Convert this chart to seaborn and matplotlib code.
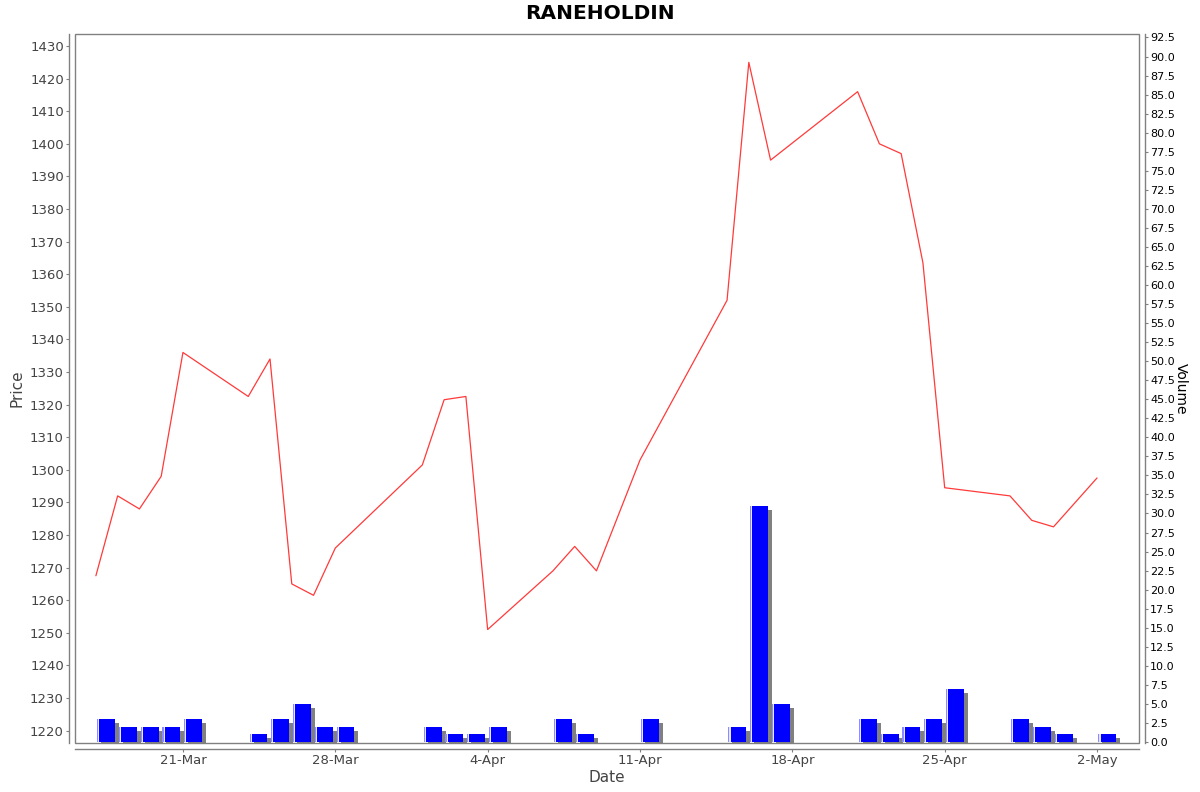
import numpy as np
import pandas as pd
import matplotlib
matplotlib.use("Agg")
import matplotlib.pyplot as plt
import matplotlib.dates as mdates
import matplotlib.transforms as mtransforms
from matplotlib.patches import Rectangle
import seaborn as sns

# trading days and values
dates = ["2025-03-17", "2025-03-18", "2025-03-19", "2025-03-20", "2025-03-21",
         "2025-03-24", "2025-03-25", "2025-03-26", "2025-03-27", "2025-03-28",
         "2025-04-01", "2025-04-02", "2025-04-03", "2025-04-04",
         "2025-04-07", "2025-04-08", "2025-04-09", "2025-04-11",
         "2025-04-15", "2025-04-16", "2025-04-17",
         "2025-04-21", "2025-04-22", "2025-04-23", "2025-04-24", "2025-04-25",
         "2025-04-28", "2025-04-29", "2025-04-30", "2025-05-02"]
price = [1267.5, 1292, 1288, 1298, 1336,
         1322.5, 1334, 1265, 1261.5, 1276,
         1301.5, 1321.5, 1322.5, 1251,
         1269, 1276.5, 1269, 1303,
         1352, 1425, 1395,
         1416, 1400, 1397, 1363.5, 1294.5,
         1292, 1284.5, 1282.5, 1297.5]
volume = [3, 2, 2, 2, 3,
          1, 3, 5, 2, 2,
          2, 1, 1, 2,
          3, 1, 0, 3,
          2, 31, 5,
          3, 1, 2, 3, 7,
          3, 2, 1, 1]

df = pd.DataFrame({"Date": pd.to_datetime(dates), "Price": price, "Volume": volume})

sns.set_style("white")
plt.rcParams["font.family"] = ["DejaVu Sans"]

fig = plt.figure(figsize=(12, 7.92), dpi=100)
ax = fig.add_axes([0.0625, 0.0619, 0.8867, 0.8952])
ax2 = ax.twinx()

grey = "#808080"
txt = "#444444"

# volume bars with drop shadow
x = mdates.date2num(df["Date"]) + 0.06
w = 0.82
shadow = mtransforms.offset_copy(ax2.transData, fig=fig, x=4, y=-4, units="dots")
ax2.bar(x, df["Volume"], width=w, align="edge", color=grey, linewidth=0,
        transform=shadow, zorder=1)
ax2.bar(x, df["Volume"], width=w, align="edge", color="#0000ff", linewidth=0, zorder=2)
ax2.bar(x, df["Volume"], width=0.05, align="edge", color="#8c8cff", linewidth=0, zorder=3)
ax2.bar(x + 0.05, df["Volume"], width=0.05, align="edge", color="#e6e6ff", linewidth=0, zorder=3)

# price line on top
ax.set_zorder(ax2.get_zorder() + 1)
ax.patch.set_visible(False)
sns.lineplot(data=df, x="Date", y="Price", ax=ax, color="#ff3a3a", linewidth=0.9)

ax.set_xlim(mdates.date2num(pd.Timestamp("2025-03-16")) + 0.04,
            mdates.date2num(pd.Timestamp("2025-05-03")) + 0.93)
ax.set_ylim(1216.2, 1433.7)
ax2.set_ylim(-0.13, 92.96)

ticks = pd.date_range("2025-03-21", "2025-05-02", freq="7D")
ax.set_xticks(mdates.date2num(ticks))
ax.set_xticklabels([f"{t.day}-{t.strftime('%b')}" for t in ticks])
ax.set_yticks(np.arange(1220, 1431, 10))
ax2.set_yticks(np.arange(0, 92.6, 2.5))
ax2.set_yticklabels([f"{v:.1f}" for v in np.arange(0, 92.6, 2.5)])

for a in (ax, ax2):
    for s in a.spines.values():
        s.set_visible(False)
ax.spines["left"].set_visible(True)
ax.spines["left"].set_position(("outward", 4))
ax.spines["bottom"].set_visible(True)
ax.spines["bottom"].set_position(("outward", 4))
ax2.spines["right"].set_visible(True)
ax2.spines["right"].set_position(("outward", 4))
for s in (ax.spines["left"], ax.spines["bottom"], ax2.spines["right"]):
    s.set_color(grey)
    s.set_linewidth(1)

ax.add_patch(Rectangle((0, 0), 1, 1, transform=ax.transAxes, fill=False,
                       edgecolor=grey, linewidth=1, clip_on=False, zorder=5))

ax.tick_params(axis="both", which="major", direction="out", length=2, width=0.8,
               color=grey, labelsize=9.5, labelcolor=txt, pad=2,
               left=True, bottom=True)
ax2.tick_params(axis="y", direction="out", length=2, width=0.8, color=grey,
                labelsize=8, labelcolor="black", pad=2, right=True)

ax.set_xlabel("Date", fontsize=11, color=txt, labelpad=2)
ax.set_ylabel("Price", fontsize=11, color=txt, labelpad=4)
ax2.set_ylabel("Volume", fontsize=10, color="black", rotation=-90, labelpad=9)
ax.grid(False)
ax2.grid(False)

fig.text(0.5, 0.983, "RANEHOLDIN", ha="center", va="center",
         fontsize=14.5, fontweight="bold", color="black")

fig.savefig("out.png", dpi=100, facecolor="white")
